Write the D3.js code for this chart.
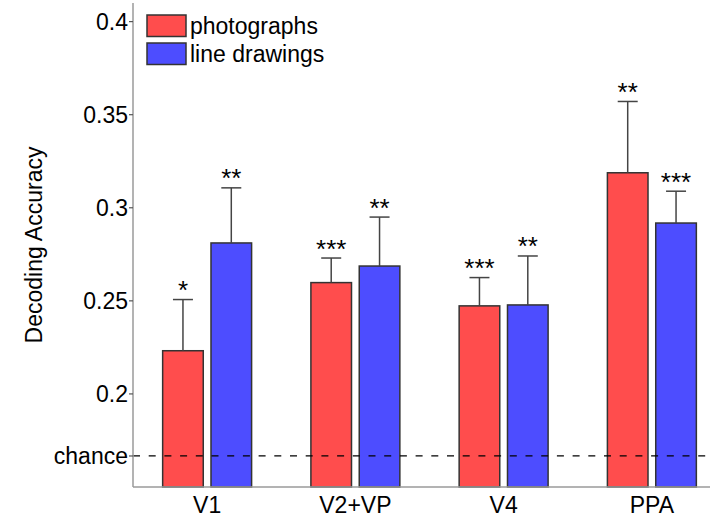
<!DOCTYPE html>
<html>
<head>
    <meta charset="utf-8">
    <title>Decoding Accuracy</title>
    <script src="https://d3js.org/d3.v7.min.js"></script>
    <style>
        body {
            margin: 0;
            background-color: white;
            font-family: "Liberation Sans", Arial, sans-serif;
        }
        svg {
            display: block;
        }
        .axis-line {
            stroke: #9a9a9a;
            stroke-width: 1.5px;
        }
        .tick-mark {
            stroke: #555;
            stroke-width: 1.2px;
        }
        .label {
            font-size: 23px;
            fill: black;
        }
        .bar {
            stroke: #333;
            stroke-width: 1.5px;
        }
        .err {
            stroke: #444;
            stroke-width: 1.5px;
            fill: none;
        }
        .chance {
            stroke: black;
            stroke-width: 1.3px;
            stroke-dasharray: 7, 8.7;
        }
    </style>
</head>
<body>
    <svg width="710" height="518"></svg>

    <script>
        // data
        const regions = ["V1", "V2+VP", "V4", "PPA"];
        const series = ["photographs", "line drawings"];
        const colors = ["#ff4d4d", "#4d4dff"];
        const photoMean = [0.2232, 0.2598, 0.2473, 0.3188];
        const photoErr = [0.0275, 0.0132, 0.0152, 0.0383];
        const photoStars = ["*", "***", "***", "**"];
        const lineMean = [0.2811, 0.2687, 0.2478, 0.2918];
        const lineErr = [0.0296, 0.0263, 0.0263, 0.0171];
        const lineStars = ["**", "**", "**", "***"];
        const yTicks = [0.2, 0.25, 0.3, 0.35, 0.4];
        const yTickLabels = ["0.2", "0.25", "0.3", "0.35", "0.4"];
        const chanceLevel = 1 / 6;

        const svg = d3.select("svg");
        const plotL = 133, plotT = 3, plotB = 487, plotR = 726;

        const y = d3.scaleLinear().domain([0.15, 0.41]).range([plotB, plotT]);
        const x0 = d3.scaleBand().domain(regions).range([plotL, plotR]).padding(0);
        const bw = x0.bandwidth();
        const x1 = d3.scaleBand().domain(series).range([bw * 0.2, bw * 0.8]).paddingInner(0.16);

        // flatten into one list of bars
        const bars = [];
        regions.forEach((r, i) => {
            bars.push({ region: r, s: series[0], mean: photoMean[i], err: photoErr[i], star: photoStars[i], color: colors[0] });
            bars.push({ region: r, s: series[1], mean: lineMean[i], err: lineErr[i], star: lineStars[i], color: colors[1] });
        });
        const cx = d => x0(d.region) + x1(d.s) + x1.bandwidth() / 2;

        // bars
        svg.selectAll(".bar")
           .data(bars)
           .enter()
           .append("rect")
           .attr("class", "bar")
           .attr("x", d => x0(d.region) + x1(d.s))
           .attr("y", d => y(d.mean))
           .attr("width", x1.bandwidth())
           .attr("height", d => plotB - y(d.mean))
           .attr("fill", d => d.color);

        // error bars (upper only)
        const eb = svg.selectAll(".eb")
                      .data(bars)
                      .enter()
                      .append("g");

        eb.append("line")
          .attr("class", "err")
          .attr("x1", cx).attr("x2", cx)
          .attr("y1", d => y(d.mean))
          .attr("y2", d => y(d.mean + d.err));

        eb.append("line")
          .attr("class", "err")
          .attr("x1", d => cx(d) - 10).attr("x2", d => cx(d) + 10)
          .attr("y1", d => y(d.mean + d.err))
          .attr("y2", d => y(d.mean + d.err));

        eb.append("text")
          .attr("x", cx)
          .attr("y", d => y(d.mean + d.err) - 0.5)
          .attr("text-anchor", "middle")
          .attr("font-size", "26px")
          .text(d => d.star);

        // chance line
        svg.append("line")
           .attr("class", "chance")
           .attr("x1", plotL).attr("x2", 710)
           .attr("y1", y(chanceLevel)).attr("y2", y(chanceLevel));

        // axes
        svg.append("line")
           .attr("class", "axis-line")
           .attr("x1", plotL).attr("x2", plotL)
           .attr("y1", plotT).attr("y2", plotB);
        svg.append("line")
           .attr("class", "axis-line")
           .attr("x1", plotL).attr("x2", 710)
           .attr("y1", plotB).attr("y2", plotB);

        const tickVals = yTicks.concat([chanceLevel]);
        const tickText = yTickLabels.concat(["chance"]);

        svg.selectAll(".tick-mark")
           .data(tickVals)
           .enter()
           .append("line")
           .attr("class", "tick-mark")
           .attr("x1", plotL - 4).attr("x2", plotL)
           .attr("y1", d => y(d)).attr("y2", d => y(d));

        svg.selectAll(".ylab")
           .data(tickVals)
           .enter()
           .append("text")
           .attr("class", "label")
           .attr("x", plotL - 5)
           .attr("y", d => y(d))
           .attr("dy", "0.35em")
           .attr("text-anchor", "end")
           .text((d, i) => tickText[i]);

        svg.selectAll(".xlab")
           .data(regions)
           .enter()
           .append("text")
           .attr("class", "label")
           .attr("x", d => x0(d) + bw / 2)
           .attr("y", 513)
           .attr("text-anchor", "middle")
           .text(d => d);

        svg.append("text")
           .attr("class", "label")
           .attr("transform", `translate(41.5,${(plotT + plotB) / 2}) rotate(-90)`)
           .attr("text-anchor", "middle")
           .text("Decoding Accuracy");

        // legend
        const leg = svg.selectAll(".leg")
                       .data(series)
                       .enter()
                       .append("g")
                       .attr("transform", (d, i) => `translate(147,${15 + i * 28})`);

        leg.append("rect")
           .attr("class", "bar")
           .attr("width", 39)
           .attr("height", 21.5)
           .attr("fill", (d, i) => colors[i]);

        leg.append("text")
           .attr("class", "label")
           .attr("x", 43)
           .attr("y", 18.5)
           .text(d => d);
    </script>
</body>
</html>
